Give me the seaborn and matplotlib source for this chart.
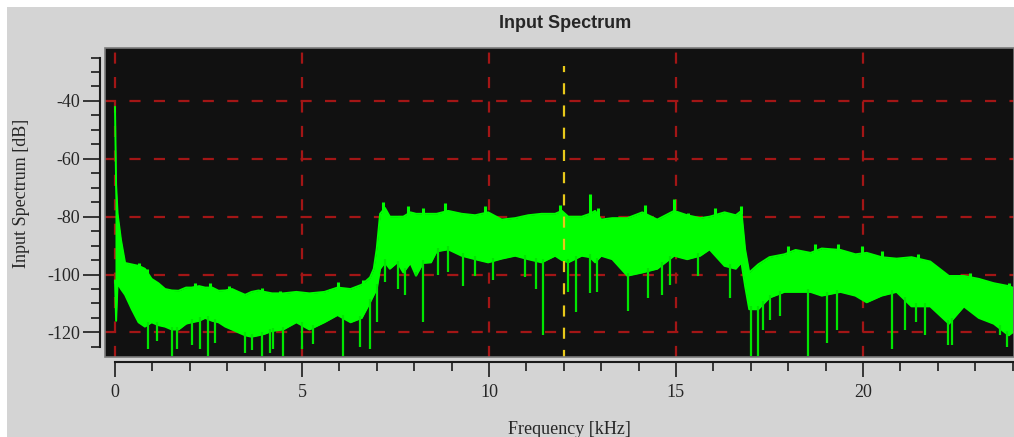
import numpy as np
import pandas as pd
import matplotlib
matplotlib.use("Agg")
import matplotlib.pyplot as plt
from matplotlib.patches import Rectangle
from matplotlib.ticker import MultipleLocator
import seaborn as sns

# spectrum band: top and bottom of the dense green trace
freq_khz = [0.0, 0.03, 0.07, 0.16, 0.27, 0.45, 0.63, 0.8, 0.98, 1.16, 1.34, 1.52, 1.7,
            1.9, 2.05, 2.25, 2.41, 2.6, 2.77, 2.95, 3.13, 3.3, 3.48, 3.65, 3.84, 4.0,
            4.2, 4.5, 4.85, 5.2, 5.6, 5.95, 6.3, 6.6, 6.82, 6.92, 7.0, 7.09, 7.22, 7.35,
            7.55, 7.71, 7.9, 8.05, 8.24, 8.45, 8.6, 8.91, 9.27, 9.63, 9.98, 10.34, 10.7,
            11.05, 11.41, 11.77, 11.95, 12.12, 12.48, 12.7, 12.84, 13.0, 13.3, 13.7,
            14.1, 14.5, 14.95, 15.3, 15.65, 15.9, 16.3, 16.6, 16.75, 16.85, 16.96, 17.2,
            17.5, 17.9, 18.2, 18.6, 18.9, 19.4, 19.8, 20.1, 20.5, 20.9, 21.3, 21.8,
            22.3, 22.7, 23.1, 23.5, 23.9, 24.0]
upper_db = [-42, -69, -79, -88, -96, -96.5, -97, -98, -101.5, -103, -105, -105.5, -105.6,
            -104.5, -104.5, -104, -104.5, -104.5, -105.6, -105.5, -105, -106, -107, -106,
            -105.5, -106, -106.5, -106.5, -106, -106.5, -106, -104.5, -105, -103.5,
            -101, -98, -91, -79, -77, -80, -80, -80, -78.5, -79, -79, -79,
            -79, -78, -79, -79.5, -78.5, -81, -80.5, -79.5, -79, -79, -78, -80,
            -80, -79, -78, -81, -80.5, -80.5, -78.5, -81, -78, -79.5, -80.5, -80,
            -78.5, -79.5, -78, -91.3, -99.3, -96.5, -94, -93, -91.5, -92.5, -91,
            -91.5, -93, -92.5, -94, -94.5, -94, -95.5, -100.5, -100.5, -101.5, -103, -104,
            -104.5]
lower_db = [-102, -116, -103, -105, -107, -112, -116.5, -118, -116.5, -117.5, -118, -119,
            -119, -117, -116.5, -116, -115, -116, -116.5, -118, -119, -120, -121, -121.5,
            -121, -120.5, -119.5, -119, -116.5, -119, -116.5, -114, -116.5, -115,
            -109.6, -107, -105, -98, -95.8, -98, -95.8, -99.3, -96, -100.4, -96, -95.8,
            -92, -91.3, -93.5, -94.7, -95.8, -94.5, -93.5, -94.7, -95.8, -93.5, -95,
            -95.8, -93.5, -94, -95.8, -93.5, -94.7, -100.4, -99.3, -98, -93.5, -94.7,
            -93.5, -91.3, -97, -98, -95.8, -104, -112, -112, -108, -106, -106, -106,
            -107.3, -106, -107.3, -109.6, -107.3, -106, -111, -111, -117, -111, -115,
            -117, -121, -120]

# narrow upward spikes above the band
peak_khz = [0.63, 0.85, 2.14, 2.54, 3.04, 3.93, 4.41, 5.75, 5.97, 6.64, 7.18, 7.84, 8.24,
            8.82, 9.89, 11.9, 12.7, 12.92, 14.17, 14.95, 15.33, 16.04, 16.75, 18.0,
            18.72, 19.34, 19.97, 20.5, 21.48, 22.86, 23.9]
peak_db = [-96, -98, -103, -103, -104, -104.5, -105.6, -105, -102.7, -102, -75, -76.4,
           -77, -75.2, -76.4, -75.8, -72.3, -77, -75.8, -74, -78.6, -77, -76.4, -90,
           -89.5, -89.5, -90, -91.8, -93, -99.3, -103]

# narrow downward spikes below the band
dip_khz = [0.89, 1.12, 1.52, 1.65, 2.05, 2.28, 2.5, 2.68, 3.48, 3.66, 3.93, 4.15, 4.23,
           4.5, 5.0, 5.3, 6.1, 6.55, 6.82, 7.01, 7.22, 7.58, 7.75, 8.04, 8.24, 8.65,
           8.91, 9.31, 9.63, 10.12, 10.96, 11.27, 11.45, 12.12, 12.32, 12.7, 12.88,
           13.73, 14.26, 14.62, 14.84, 15.6, 16.44, 17.02, 17.2, 17.33, 17.51, 17.78,
           18.52, 19.03, 19.3, 20.77, 21.12, 21.42, 21.66, 22.28, 22.37, 23.66, 23.86]
dip_db = [-125.7, -123, -128, -125.7, -124.5, -125.7, -128, -123.5, -127, -126, -128,
          -127, -125.7, -128, -125.7, -124, -128, -125, -125.7, -116.5, -102.7, -105,
          -107, -100.5, -116.5, -100, -99, -104, -100.5, -102, -101, -105, -121, -106,
          -113, -106.5, -106, -112.5, -108, -107, -103.5, -100.5, -108, -128, -128,
          -119, -115.7, -114.5, -128, -123.5, -119, -125.7, -119, -116.5, -121, -124.5,
          -124.5, -121, -125]

marker_khz = 12.0
marker_top_db = -28

df = pd.DataFrame({'freq': freq_khz, 'upper': upper_db, 'lower': lower_db})

sns.set_style("dark")
plt.rcParams['font.family'] = ['Liberation Serif', 'DejaVu Serif']
plt.rcParams['axes.unicode_minus'] = False

W, H = 1014, 437
GREEN = '#00ff00'
GRID_RED = '#a31616'
BG = '#d4d4d4'

fig = plt.figure(figsize=(W / 100, H / 100), dpi=100, facecolor='white')
fig.patches.append(Rectangle((7 / W, 0), 1, 1 - 7 / H, transform=fig.transFigure,
                             facecolor=BG, edgecolor='none', zorder=-10))
ax = fig.add_axes([105 / W, 80 / H, 909 / W, 309 / H])
ax.set_facecolor('#111111')

# spectrum
ax.fill_between(df['freq'], df['lower'], df['upper'], color=GREEN, lw=0, zorder=3)
sns.lineplot(data=df, x='freq', y='upper', color=GREEN, lw=1.4, ax=ax, zorder=3)
sns.lineplot(data=df, x='freq', y='lower', color=GREEN, lw=1.4, ax=ax, zorder=3)
ax.vlines(peak_khz, np.interp(peak_khz, freq_khz, upper_db) - 1, peak_db, color=GREEN,
          lw=2.2, zorder=3)
ax.vlines(dip_khz, dip_db, np.interp(dip_khz, freq_khz, lower_db) + 1, color='#00e600',
          lw=1.6, zorder=3)

# cursor
ax.vlines(marker_khz, -130, marker_top_db, color='#e8c81a', lw=1.6,
          linestyles=(0, (5, 5)), zorder=4)

ax.set_xlim(-0.267, 24.04)
ax.set_ylim(-128.5, -21.7)
ax.xaxis.set_major_locator(MultipleLocator(5))
ax.xaxis.set_minor_locator(MultipleLocator(1))
ax.yaxis.set_major_locator(MultipleLocator(20))
ax.yaxis.set_minor_locator(MultipleLocator(5))
ax.grid(True, which='major', color=GRID_RED, linestyle=(0, (5, 6)), linewidth=1.6, zorder=1)
ax.set_axisbelow(True)

for side in ['top', 'right']:
    ax.spines[side].set_visible(False)
for side in ['left', 'bottom']:
    ax.spines[side].set_visible(True)
    ax.spines[side].set_color('#1a1a1a')
    ax.spines[side].set_linewidth(1.5)
    ax.spines[side].set_position(('outward', 3.6))
ax.spines['left'].set_bounds(-125, -25)
ax.spines['bottom'].set_bounds(0, 24)
ax.add_patch(Rectangle((0, 0), 1, 1, transform=ax.transAxes, fill=False,
                       edgecolor='#7a7a7a', lw=1.2, zorder=5, clip_on=False))

ax.tick_params(axis='y', which='major', direction='out', length=12.5, width=1.2,
               color='#1a1a1a', pad=2, labelsize=13, left=True)
ax.tick_params(axis='y', which='minor', direction='out', length=6.5, width=1.2,
               color='#1a1a1a', left=True)
ax.tick_params(axis='x', which='major', direction='out', length=11, width=1.2,
               color='#1a1a1a', pad=5, labelsize=13, bottom=True)
ax.tick_params(axis='x', which='minor', direction='out', length=6.5, width=1.2,
               color='#1a1a1a', bottom=True)
ax.set_xlabel('')
ax.set_ylabel('')

fig.text(565 / W, 1 - 24 / H, 'Input Spectrum', ha='center', va='center', fontsize=13,
         fontweight='bold', family=['Liberation Sans', 'DejaVu Sans'])
fig.text(22 / W, 1 - 193 / H, 'Input Spectrum [dB]', rotation=90, ha='center',
         va='center', fontsize=13)
fig.text(569 / W, 1 - 429 / H, 'Frequency [kHz]', ha='center', va='center', fontsize=13)

fig.savefig('out.png', dpi=100, facecolor=fig.get_facecolor())
